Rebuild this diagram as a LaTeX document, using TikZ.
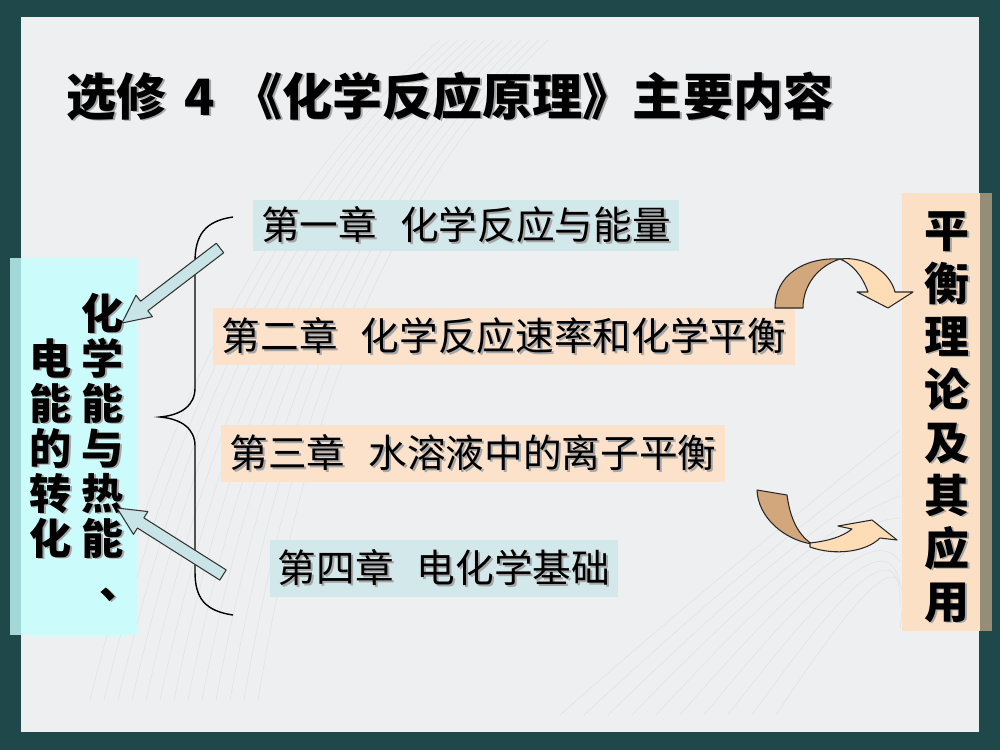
\documentclass[tikz,border=0pt]{standalone}
\usepackage{fontspec}
\setmainfont{Noto Sans CJK SC}
\usetikzlibrary{calc}
\definecolor{frameteal}{HTML}{1E4849}
\definecolor{panelgrey}{HTML}{EEEFF1}
\definecolor{texgrey}{HTML}{E3E4E7}
\definecolor{sidecyan}{HTML}{CCFBFB}
\definecolor{sidecyandk}{HTML}{A4D8D8}
\definecolor{sidepeach}{HTML}{FBE0C6}
\definecolor{sidepeachdk}{HTML}{958E77}
\definecolor{chapblue}{HTML}{D3E8EA}
\definecolor{chappeach}{HTML}{FCE2CB}
\definecolor{arrowcyan}{HTML}{C8E4E6}
\definecolor{curvedark}{HTML}{D2A77C}
\definecolor{curvelight}{HTML}{FDDCB6}
\newcommand\shd[1]{\makebox[0pt][l]{\hspace{1.1pt}\raisebox{-1.1pt}{\textcolor{black!35}{#1}}}#1}

\begin{document}
\begin{tikzpicture}[x=0.02cm,y=-0.02cm,
  chapter/.style={minimum height=1.14cm,inner sep=0pt,font=\fontsize{22}{24}\selectfont},
  sidech/.style={inner sep=0pt,anchor=base,font=\bfseries\fontsize{24}{26}\selectfont},
  rightch/.style={inner sep=0pt,anchor=base,font=\bfseries\fontsize{25.6}{28}\selectfont},
  blockarrow/.style={draw=black!80,line width=0.6pt,fill=arrowcyan,line join=round},
  curved/.style={draw=black!85,line width=0.6pt,line join=round}]
\useasboundingbox (0,0) rectangle (1000,750);
% frame and panel
\fill[frameteal] (0,0) rectangle (1000,750);
\fill[panelgrey] (21,17) rectangle (979,732);
% faint texture of the panel
\foreach \k in {0,...,12}
  \draw[texgrey,line width=0.4pt] (90+14*\k,700) .. controls (160+12*\k,420) and (260+10*\k,200) .. (440+9*\k,40);
\foreach \k in {0,...,9}
  \draw[texgrey,line width=0.4pt] (560+24*\k,715) .. controls (690+18*\k,600) and (790+14*\k,520) .. (900,430+22*\k);
% title
\node[font=\bfseries\fontsize{28.5}{32}\selectfont,inner sep=0pt] (title) at (450,97) {\shd{选修\hspace{0.35em}4\hspace{0.35em}《化学反应原理》主要内容}};
% side boxes
\node[fill=sidecyan,minimum width=2.32cm,minimum height=7.54cm,inner sep=0pt] (lbox) at (79,446.5) {};
\fill[sidecyandk] (10,258) rectangle (21,635);
\node[fill=sidepeach,minimum width=1.56cm,minimum height=8.76cm,inner sep=0pt] (rbox) at (941,412) {};
\fill[sidepeachdk] (980,193) rectangle (992,631);
\foreach \c [count=\i] in {化,学,能,与,热,能}
  \node[sidech] (heat\i) at (103,{329+45*(\i-1)}) {\shd{\c}};
\node[sidech] (heat7) at (121,598) {\shd{、}};
\foreach \c [count=\i] in {电,能,的,转,化}
  \node[sidech] (elec\i) at (51,{374+45*(\i-1)}) {\shd{\c}};
\foreach \c [count=\i] in {平,衡,理,论,及,其,应,用}
  \node[rightch] (eq\i) at (947,{247+53*(\i-1)}) {\shd{\c}};
% chapters
\node[chapter,fill=chapblue,minimum width=8.54cm,minimum height=1.02cm] (ch1) at (466,225.5) {\shd{第一章\hspace{0.6em}化学反应与能量}};
\node[chapter,fill=chappeach,minimum width=11.64cm] (ch2) at (504,336.5) {\shd{第二章\hspace{0.6em}化学反应速率和化学平衡}};
\node[chapter,fill=chappeach,minimum width=10.08cm] (ch3) at (473,453.5) {\shd{第三章\hspace{0.6em}水溶液中的离子平衡}};
\node[chapter,fill=chapblue,minimum width=6.96cm] (ch4) at (444,568.5) {\shd{第四章\hspace{0.6em}电化学基础}};
% brace
\draw[line width=0.8pt] (233,217) .. controls (205,221) and (195,235) .. (195,262) -- (195,388) .. controls (195,405) and (182,415) .. (160,417) .. controls (182,419) and (195,429) .. (195,446) -- (195,572) .. controls (195,598) and (205,611) .. (233,615);
% block arrows into the left box
\coordinate (tail1) at (220,248); \coordinate (tip1) at (122,323);
\coordinate (tail2) at (223,575); \coordinate (tip2) at (117,508);
\foreach \tailpt/\tippt in {tail1/tip1,tail2/tip2} {
  \coordinate (hb) at ($(\tippt)!0.56cm!(\tailpt)$);
  \draw[blockarrow] ($(\tailpt)!0.12cm!90:(\tippt)$) -- ($(hb)!0.12cm!90:(\tippt)$) -- ($(hb)!0.27cm!90:(\tippt)$) -- (\tippt)
    -- ($(hb)!0.27cm!-90:(\tippt)$) -- ($(hb)!0.12cm!-90:(\tippt)$) -- ($(\tailpt)!0.12cm!-90:(\tippt)$) -- cycle;
}
% curved arrows to the right box
\draw[curved,fill=curvedark] (775,308) .. controls (775,276) and (803,257) .. (840,259) .. controls (818,266) and (803,285) .. (803,308) -- cycle;
\draw[curved,fill=curvelight] (840,259) .. controls (866,256) and (890,272) .. (895,292) -- (913,292) -- (888,308) -- (857,292) -- (868,292) .. controls (862,275) and (852,264) .. (840,259) -- cycle;
\draw[curved,fill=curvedark] (757,490) -- (787,495) .. controls (790,518) and (798,535) .. (812,544) .. controls (785,540) and (758,518) .. (757,490) -- cycle;
\draw[curved,fill=curvelight] (810,543) .. controls (828,541) and (842,537) .. (852,529) -- (838,526) -- (872,520) -- (897,540) -- (880,538) .. controls (866,552) and (835,556) .. (810,547) -- cycle;
\end{tikzpicture}
\end{document}
